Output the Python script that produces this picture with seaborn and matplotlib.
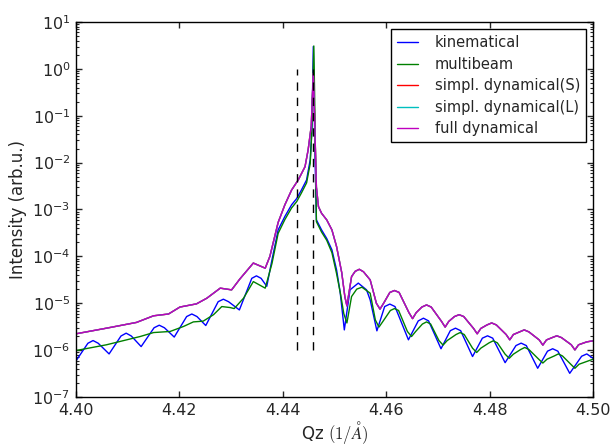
import numpy as np
import pandas as pd
import matplotlib
matplotlib.use("Agg")
import matplotlib.pyplot as plt
import seaborn as sns

# values (Qz in 1/A, intensity in arb.u.)
kin_qz = [4.4000, 4.4023, 4.4033, 4.4043, 4.4064,
          4.4087, 4.4097, 4.4107, 4.4126,
          4.4151, 4.4161, 4.4171, 4.4190,
          4.4214, 4.4224, 4.4234, 4.4251,
          4.4275, 4.4285, 4.4295, 4.4316,
          4.4340, 4.4349, 4.4358, 4.4369,
          4.4379, 4.4391, 4.4404, 4.4417, 4.4427, 4.4436, 4.4446, 4.4453,
          4.4456, 4.44575, 4.4459, 4.44605, 4.4462, 4.4465,
          4.4475, 4.4485, 4.4495, 4.4504, 4.4511, 4.4519,
          4.4530, 4.4546, 4.4562, 4.4569, 4.4582,
          4.4597, 4.4607, 4.4617, 4.4643,
          4.4662, 4.4672, 4.4682, 4.4706,
          4.4724, 4.4734, 4.4744, 4.4767,
          4.4786, 4.4796, 4.4806, 4.4830,
          4.4851, 4.4861, 4.4871, 4.4893,
          4.4912, 4.4922, 4.4932, 4.4955,
          4.4978, 4.4988, 4.5000]
kin_int = [5.9e-7, 1.4e-6, 1.6e-6, 1.4e-6, 8.3e-7,
           2.0e-6, 2.3e-6, 2.0e-6, 1.19e-6,
           3.0e-6, 3.4e-6, 3.0e-6, 1.9e-6,
           5.2e-6, 5.9e-6, 5.2e-6, 3.35e-6,
           1.08e-5, 1.22e-5, 1.08e-5, 7.2e-6,
           3.4e-5, 3.84e-5, 3.4e-5, 2.3e-5,
           8.4e-5, 3.67e-4, 7.1e-4, 1.26e-3, 1.72e-3, 2.6e-3, 4.28e-3, 1.15e-2,
           0.043, 0.3, 3.0, 0.3, 0.02, 6.0e-4,
           3.67e-4, 2.4e-4, 1.38e-4, 5.15e-5, 1.7e-5, 2.7e-6,
           1.93e-5, 2.69e-5, 1.93e-5, 1.18e-5, 2.58e-6,
           8.5e-6, 9.6e-6, 8.5e-6, 1.66e-6,
           4.2e-6, 4.8e-6, 4.2e-6, 1.07e-6,
           2.6e-6, 2.94e-6, 2.6e-6, 7.3e-7,
           1.8e-6, 2.02e-6, 1.8e-6, 5.4e-7,
           1.25e-6, 1.41e-6, 1.25e-6, 4.1e-7,
           9.5e-7, 1.07e-6, 9.5e-7, 3.2e-7,
           7.4e-7, 8.3e-7, 6.7e-7]

mb_qz = [4.4000, 4.4059, 4.4124, 4.4150, 4.4182, 4.4208, 4.4227, 4.4246,
         4.4266, 4.4282, 4.4298, 4.4306, 4.4324, 4.4343, 4.4366,
         4.4379, 4.4391, 4.4404, 4.4417, 4.4427, 4.4436, 4.4446, 4.4453,
         4.4456, 4.4458, 4.4460, 4.44615, 4.4463, 4.4465,
         4.4475, 4.4485, 4.4495, 4.4504, 4.4512, 4.4518, 4.4524,
         4.4533, 4.4543, 4.4553, 4.4569, 4.4579, 4.4586, 4.4593,
         4.4608, 4.4616, 4.4624, 4.4641, 4.4649, 4.4657,
         4.4670, 4.4678, 4.4686, 4.4702, 4.4710, 4.4718,
         4.4735, 4.4743, 4.4751, 4.4767, 4.4775, 4.4783,
         4.4799, 4.4807, 4.4815, 4.4830, 4.4838, 4.4846,
         4.4860, 4.4868, 4.4876, 4.4895, 4.4903, 4.4911,
         4.4925, 4.4933, 4.4941, 4.4957, 4.4965, 4.4973, 4.5000]
mb_int = [9.8e-7, 1.3e-6, 1.95e-6, 2.37e-6, 2.5e-6, 3.2e-6, 4.0e-6, 4.15e-6,
          5.7e-6, 8.5e-6, 8.1e-6, 7.7e-6, 1.28e-5, 2.9e-5, 2.1e-5,
          7.0e-5, 3.1e-4, 6.1e-4, 1.08e-3, 1.48e-3, 2.25e-3, 3.7e-3, 9.5e-3,
          0.043, 0.4, 3.08, 0.3, 0.02, 5.5e-4,
          3.3e-4, 2.2e-4, 1.2e-4, 4.3e-5, 1.5e-5, 6.0e-6, 3.8e-6,
          1.39e-5, 2.0e-5, 2.2e-5, 1.64e-5, 4.4e-6, 3.1e-6, 4.0e-6,
          7.0e-6, 7.7e-6, 7.0e-6, 2.5e-6, 1.95e-6, 2.5e-6,
          3.6e-6, 4.0e-6, 3.6e-6, 1.6e-6, 1.28e-6, 1.6e-6,
          2.15e-6, 2.37e-6, 2.15e-6, 1.1e-6, 8.9e-7, 1.1e-6,
          1.43e-6, 1.58e-6, 1.43e-6, 8.2e-7, 6.7e-7, 8.2e-7,
          1.03e-6, 1.14e-6, 1.03e-6, 6.4e-7, 5.3e-7, 6.4e-7,
          7.5e-7, 8.3e-7, 7.5e-7, 5.0e-7, 4.1e-7, 5.0e-7, 6.4e-7]

full_qz = [4.4000, 4.4059, 4.4117, 4.4150, 4.4179, 4.4201, 4.4233, 4.4253,
           4.4279, 4.4301, 4.4317, 4.4343, 4.4366,
           4.4375, 4.4391, 4.4404, 4.4417, 4.4430, 4.4443, 4.4449,
           4.4455, 4.4457, 4.4459, 4.4461, 4.4463, 4.4465, 4.4469,
           4.4475, 4.4485, 4.4495, 4.4504, 4.4514, 4.4520, 4.4524,
           4.4533, 4.4540, 4.4548, 4.4556, 4.4569, 4.4581, 4.4588, 4.4595,
           4.4607, 4.4616, 4.4625, 4.4644, 4.4651, 4.4658,
           4.4669, 4.4678, 4.4687, 4.4707, 4.4714, 4.4721,
           4.4732, 4.4741, 4.4750, 4.4769, 4.4776, 4.4783,
           4.4795, 4.4804, 4.4813, 4.4832, 4.4839, 4.4846,
           4.4858, 4.4867, 4.4876, 4.4896, 4.4903, 4.4910,
           4.4921, 4.4930, 4.4939, 4.4958, 4.4965, 4.4972,
           4.4988, 4.5000]
full_int = [2.23e-6, 2.94e-6, 3.9e-6, 5.4e-6, 5.9e-6, 8.3e-6, 9.7e-6, 1.28e-5,
            2.1e-5, 1.93e-5, 3.3e-5, 7.2e-5, 5.6e-5,
            1.0e-4, 5.3e-4, 1.26e-3, 2.6e-3, 4.3e-3, 8.2e-3, 1.87e-2,
            0.06, 0.217, 0.805, 0.15, 0.02, 3.0e-3, 1.15e-3,
            8.3e-4, 6.0e-4, 3.67e-4, 1.62e-4, 4.5e-5, 1.39e-5, 8.8e-6,
            3.7e-5, 4.8e-5, 5.3e-5, 4.7e-5, 3.15e-5, 1.0e-5, 7.5e-6, 1.0e-5,
            1.7e-5, 1.87e-5, 1.7e-5, 6.3e-6, 4.7e-6, 6.3e-6,
            8.3e-6, 9.2e-6, 8.3e-6, 4.1e-6, 3.1e-6, 4.1e-6,
            5.2e-6, 5.7e-6, 5.2e-6, 2.9e-6, 2.23e-6, 2.9e-6,
            3.45e-6, 3.8e-6, 3.45e-6, 2.15e-6, 1.66e-6, 2.15e-6,
            2.45e-6, 2.7e-6, 2.45e-6, 1.65e-6, 1.28e-6, 1.65e-6,
            1.85e-6, 2.02e-6, 1.85e-6, 1.3e-6, 1.01e-6, 1.3e-6,
            1.5e-6, 1.58e-6]

# the two simplified dynamical curves lie under the full dynamical one
simpl_s_qz = list(full_qz)
simpl_s_int = list(full_int)
simpl_l_qz = list(full_qz)
simpl_l_int = list(full_int)

labels = ["kinematical", "multibeam", "simpl. dynamical(S)",
          "simpl. dynamical(L)", "full dynamical"]
colors = ["#0000ff", "#008000", "#ff0000", "#00bfbf", "#bf00bf"]
bragg_lines = [4.4428, 4.4458]

series = [(kin_qz, kin_int), (mb_qz, mb_int), (simpl_s_qz, simpl_s_int),
          (simpl_l_qz, simpl_l_int), (full_qz, full_int)]
frames = []
for lab, (q, i) in zip(labels, series):
    frames.append(pd.DataFrame({"Qz": q, "I": i, "model": lab}))
df = pd.concat(frames, ignore_index=True)

sns.set_style("ticks", {"xtick.direction": "in", "ytick.direction": "in",
                        "axes.edgecolor": "black"})
plt.rcParams["font.family"] = ["DejaVu Sans"]
plt.rcParams["mathtext.fontset"] = "cm"
plt.rcParams["xtick.top"] = True
plt.rcParams["ytick.right"] = True

fig = plt.figure(figsize=(6.12, 4.48), dpi=100)
ax = fig.add_axes([76 / 612, 51 / 448, 517 / 612, 375 / 448])

sns.lineplot(data=df, x="Qz", y="I", hue="model", hue_order=labels,
             palette=dict(zip(labels, colors)), estimator=None, sort=False,
             linewidth=1.0, ax=ax)
ax.vlines(bragg_lines, 1e-6, 1, colors="k", linestyles=(0, (6, 5)),
          linewidth=1.0)

ax.set_yscale("log")
ax.set_xlim(4.40, 4.50)
ax.set_ylim(1e-7, 10)
ax.set_xticks([4.40, 4.42, 4.44, 4.46, 4.48, 4.50])
ax.set_xticklabels(["4.40", "4.42", "4.44", "4.46", "4.48", "4.50"])
ax.tick_params(which="major", length=4, width=1, labelsize=11.5, pad=4)
ax.tick_params(which="minor", length=2, width=0.8)
for s in ax.spines.values():
    s.set_linewidth(1.0)
ax.set_xlabel(r"Qz $(1/\AA)$", fontsize=12, labelpad=1)
ax.set_ylabel("Intensity (arb.u.)", fontsize=12)

leg = ax.legend(loc="upper right", fontsize=10.5, fancybox=False,
                edgecolor="black", framealpha=1, handlelength=1.5,
                handletextpad=1.1, labelspacing=0.45)
leg.get_frame().set_linewidth(1.0)

fig.savefig("out.png", dpi=100)
